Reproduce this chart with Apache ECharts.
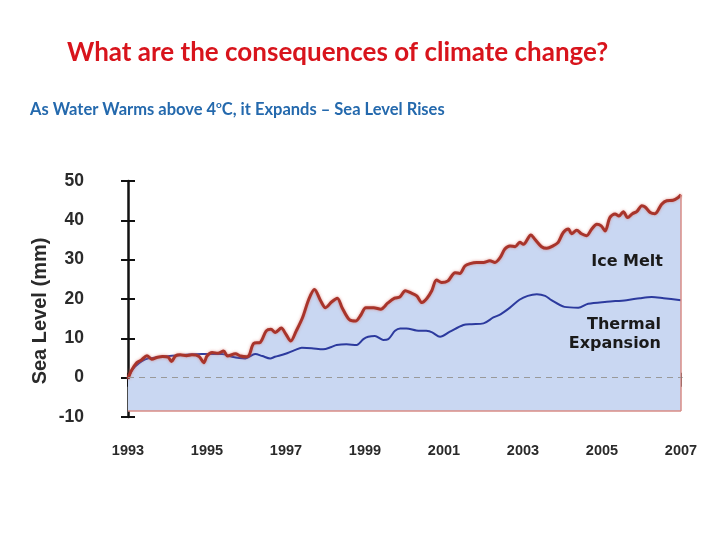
<!DOCTYPE html>
<html>
<head>
<meta charset="utf-8">
<title>Sea level</title>
<script src="https://cdn.jsdelivr.net/npm/echarts@6/dist/echarts.min.js"></script>
<style>
  html, body { margin: 0; padding: 0; background: #fff; }
  #main { width: 720px; height: 540px; }
</style>
</head>
<body>
<div id="main"></div>
<script>
// total sea level (red), year -> mm
const totalYears = [
  1993.00, 1993.08, 1993.22, 1993.34, 1993.48, 1993.60, 1993.75, 1993.88, 1994.02, 1994.10,
  1994.20, 1994.32, 1994.48, 1994.62, 1994.80, 1994.92, 1995.00, 1995.13, 1995.28, 1995.42,
  1995.52, 1995.72, 1995.85, 1996.01, 1996.08, 1996.18, 1996.35, 1996.50, 1996.62, 1996.73,
  1996.88, 1997.00, 1997.12, 1997.26, 1997.42, 1997.58, 1997.72, 1997.88, 1998.00, 1998.16,
  1998.30, 1998.42, 1998.60, 1998.76, 1998.90, 1999.02, 1999.22, 1999.40, 1999.58, 1999.75,
  1999.88, 2000.02, 2000.15, 2000.31, 2000.44, 2000.57, 2000.69, 2000.81, 2000.94, 2001.10,
  2001.28, 2001.40, 2001.53, 2001.66, 2001.83, 2002.00, 2002.16, 2002.29, 2002.42, 2002.54,
  2002.67, 2002.80, 2002.92, 2003.01, 2003.20, 2003.30, 2003.47, 2003.60, 2003.76, 2003.89,
  2004.02, 2004.15, 2004.23, 2004.36, 2004.48, 2004.61, 2004.74, 2004.87, 2004.98, 2005.08,
  2005.20, 2005.33, 2005.43, 2005.54, 2005.65, 2005.77, 2005.88, 2006.01, 2006.09, 2006.22,
  2006.34, 2006.51, 2006.64, 2006.80, 2006.93, 2007.00
]
const totalLevels = [
  -0.3, 1.7, 3.8, 4.5, 5.6, 4.7, 5.2, 5.4, 5.2, 4.1,
  5.5, 5.8, 5.6, 5.8, 5.4, 3.8, 5.5, 6.4, 6.2, 6.8,
  5.5, 6.1, 5.5, 5.3, 6.0, 8.7, 9.0, 11.9, 12.3, 11.5,
  12.6, 11.0, 9.3, 11.9, 15.3, 20.0, 22.4, 19.5, 17.8, 19.3,
  20.2, 17.8, 14.8, 14.4, 16.0, 17.8, 17.8, 17.4, 19.0, 20.2,
  20.5, 22.1, 21.6, 20.8, 19.1, 20.2, 22.1, 24.8, 24.2, 24.6,
  26.7, 26.5, 28.4, 29.0, 29.3, 29.3, 29.7, 29.3, 30.5, 32.7,
  33.5, 33.3, 34.4, 33.9, 36.3, 35.2, 33.3, 32.9, 33.5, 34.4,
  36.9, 37.8, 36.6, 37.5, 36.6, 36.1, 37.8, 39.0, 38.6, 37.3,
  40.7, 41.6, 41.1, 42.2, 40.7, 41.7, 42.2, 43.7, 43.4, 42.0,
  41.7, 44.1, 45.0, 45.1, 45.8, 46.5
]

// thermal expansion part (blue)
const thermalYears = [
  1993.00, 1993.08, 1993.18, 1993.35, 1993.52, 1993.86, 1994.30, 1994.87, 1995.38, 1995.63,
  1995.97, 1996.22, 1996.40, 1996.60, 1996.72, 1996.97, 1997.22, 1997.40, 1997.65, 1997.94,
  1998.15, 1998.28, 1998.53, 1998.79, 1998.96, 1999.08, 1999.25, 1999.46, 1999.59, 1999.76,
  1999.89, 2000.05, 2000.30, 2000.55, 2000.70, 2000.90, 2001.15, 2001.49, 2001.70, 2002.00,
  2002.25, 2002.43, 2002.67, 2002.91, 2003.12, 2003.35, 2003.56, 2003.72, 2004.05, 2004.40,
  2004.65, 2005.12, 2005.62, 2005.96, 2006.26, 2006.56, 2007.00
]
const thermalLevels = [
  -0.3, 1.5, 2.8, 4.2, 4.9, 5.3, 5.7, 6.0, 6.0, 5.3,
  4.9, 6.0, 5.5, 4.9, 5.3, 6.0, 7.0, 7.6, 7.5, 7.2,
  7.8, 8.3, 8.5, 8.3, 9.8, 10.4, 10.6, 9.6, 9.8, 11.9,
  12.5, 12.5, 12.0, 11.9, 11.5, 10.4, 11.7, 13.4, 13.6, 13.8,
  15.3, 16.1, 17.8, 19.8, 20.8, 21.2, 20.8, 19.7, 18.0, 17.8,
  18.8, 19.3, 19.7, 20.2, 20.5, 20.2, 19.7
]

const yearTicks = [1993, 1995, 1997, 1999, 2001, 2003, 2005, 2007]
const levelTicks = [-10, 0, 10, 20, 30, 40, 50]
const areaFloor = -8.5

const totalData = totalYears.map((y, i) => [y, totalLevels[i]])
const thermalData = thermalYears.map((y, i) => [y, thermalLevels[i]])
const lastYear = totalYears[totalYears.length - 1]
const lastLevel = totalLevels[totalLevels.length - 1]

const axisFont = "'Liberation Sans', Arial, sans-serif"
const labelFont = "'DejaVu Sans', sans-serif"
const subColor = '#2469ad'

const chart = echarts.init(document.getElementById('main'))
const option = {
  animation: false,
  title: [
    {
      text: 'What are the consequences of climate change?',
      left: 62,
      top: 35,
      textStyle: {
        color: '#d8141c',
        fontFamily: 'Lato',
        fontWeight: 'bold',
        fontSize: 26
      }
    },
    {
      text: '{n|As Water Warms above 4}{s|o}{n|C, it Expands \u2013 Sea Level Rises}',
      left: 25,
      top: 95,
      textStyle: {
        rich: {
          n: {
            color: subColor,
            fontFamily: 'Lato',
            fontWeight: 'bold',
            fontSize: 16.5,
            lineHeight: 20
          },
          s: {
            color: subColor,
            fontFamily: 'Lato',
            fontWeight: 'bold',
            fontSize: 10,
            lineHeight: 20,
            verticalAlign: 'top'
          }
        }
      }
    }
  ],
  grid: {
    left: 128,
    right: 39,
    top: 181,
    bottom: 123
  },
  xAxis: [
    {
      type: 'value',
      min: yearTicks[0],
      max: yearTicks[yearTicks.length - 1],
      interval: 2,
      position: 'bottom',
      axisLine: {lineStyle: {color: '#111', width: 2.5}},
      axisTick: {length: 9, lineStyle: {color: '#111', width: 2}},
      splitLine: {show: false},
      axisLabel: {
        margin: 26,
        color: '#2a2a2a',
        fontFamily: axisFont,
        fontWeight: 'bold',
        fontSize: 14.5,
        formatter: v => String(v)
      }
    },
    {
      type: 'value',
      min: yearTicks[0],
      max: yearTicks[yearTicks.length - 1],
      interval: 2,
      position: 'bottom',
      axisLine: {show: false},
      axisTick: {inside: true, length: 5, lineStyle: {color: '#111', width: 2}},
      splitLine: {show: false},
      axisLabel: {show: false}
    }
  ],
  yAxis: [
    {
      type: 'value',
      min: levelTicks[0],
      max: levelTicks[levelTicks.length - 1],
      interval: 10,
      position: 'left',
      axisLine: {show: true, lineStyle: {color: '#111', width: 2.5}},
      axisTick: {show: true, length: 7, lineStyle: {color: '#111', width: 2}},
      splitLine: {show: false},
      axisLabel: {
        margin: 44,
        color: '#2a2a2a',
        fontFamily: axisFont,
        fontWeight: 'bold',
        fontSize: 17.5
      }
    },
    {
      type: 'value',
      min: levelTicks[0],
      max: levelTicks[levelTicks.length - 1],
      interval: 10,
      position: 'left',
      axisLine: {show: false},
      axisTick: {show: true, inside: true, length: 7, lineStyle: {color: '#111', width: 2}},
      splitLine: {show: false},
      axisLabel: {show: false}
    }
  ],
  graphic: [
    {
      type: 'text',
      z: 100,
      x: 40,
      y: 311,
      rotation: Math.PI / 2,
      style: {
        text: 'Sea Level (mm)',
        fill: '#2a2a2a',
        font: "bold 20px " + axisFont,
        align: 'center',
        verticalAlign: 'middle'
      }
    },
    {
      type: 'text',
      z: 100,
      x: 663,
      y: 262,
      style: {
        text: 'Ice Melt',
        fill: '#1a1a1a',
        font: "bold 16px " + labelFont,
        align: 'right',
        verticalAlign: 'middle'
      }
    },
    {
      type: 'text',
      z: 100,
      x: 661,
      y: 334,
      style: {
        text: 'Thermal\nExpansion',
        fill: '#1a1a1a',
        font: "bold 16px " + labelFont,
        lineHeight: 19,
        align: 'right',
        verticalAlign: 'middle'
      }
    }
  ],
  series: [
    {
      name: 'area',
      type: 'line',
      data: totalData,
      smooth: 0.3,
      symbol: 'none',
      silent: true,
      lineStyle: {width: 0},
      areaStyle: {color: '#c9d7f2', opacity: 1, origin: areaFloor},
      markLine: {
        silent: true,
        symbol: 'none',
        label: {show: false},
        lineStyle: {color: '#d88d86', width: 1.5, type: 'solid'},
        data: [
          [{coord: [yearTicks[0], areaFloor]}, {coord: [lastYear, areaFloor]}],
          [{coord: [lastYear, areaFloor]}, {coord: [lastYear, lastLevel]}]
        ]
      }
    },
    {
      name: 'Thermal Expansion',
      type: 'line',
      data: thermalData,
      smooth: 0.3,
      symbol: 'none',
      lineStyle: {color: '#2c3a9e', width: 2},
      markLine: {
        silent: true,
        symbol: 'none',
        label: {show: false},
        lineStyle: {color: '#999', width: 1, type: [6, 5]},
        data: [{yAxis: 0}]
      }
    },
    {
      name: 'Total',
      type: 'line',
      data: totalData,
      smooth: 0.3,
      symbol: 'none',
      lineStyle: {
        color: '#a8342b',
        width: 3,
        shadowColor: 'rgba(215, 110, 100, 0.7)',
        shadowBlur: 3
      }
    }
  ]
}
option && chart.setOption(option)
</script>
</body>
</html>
